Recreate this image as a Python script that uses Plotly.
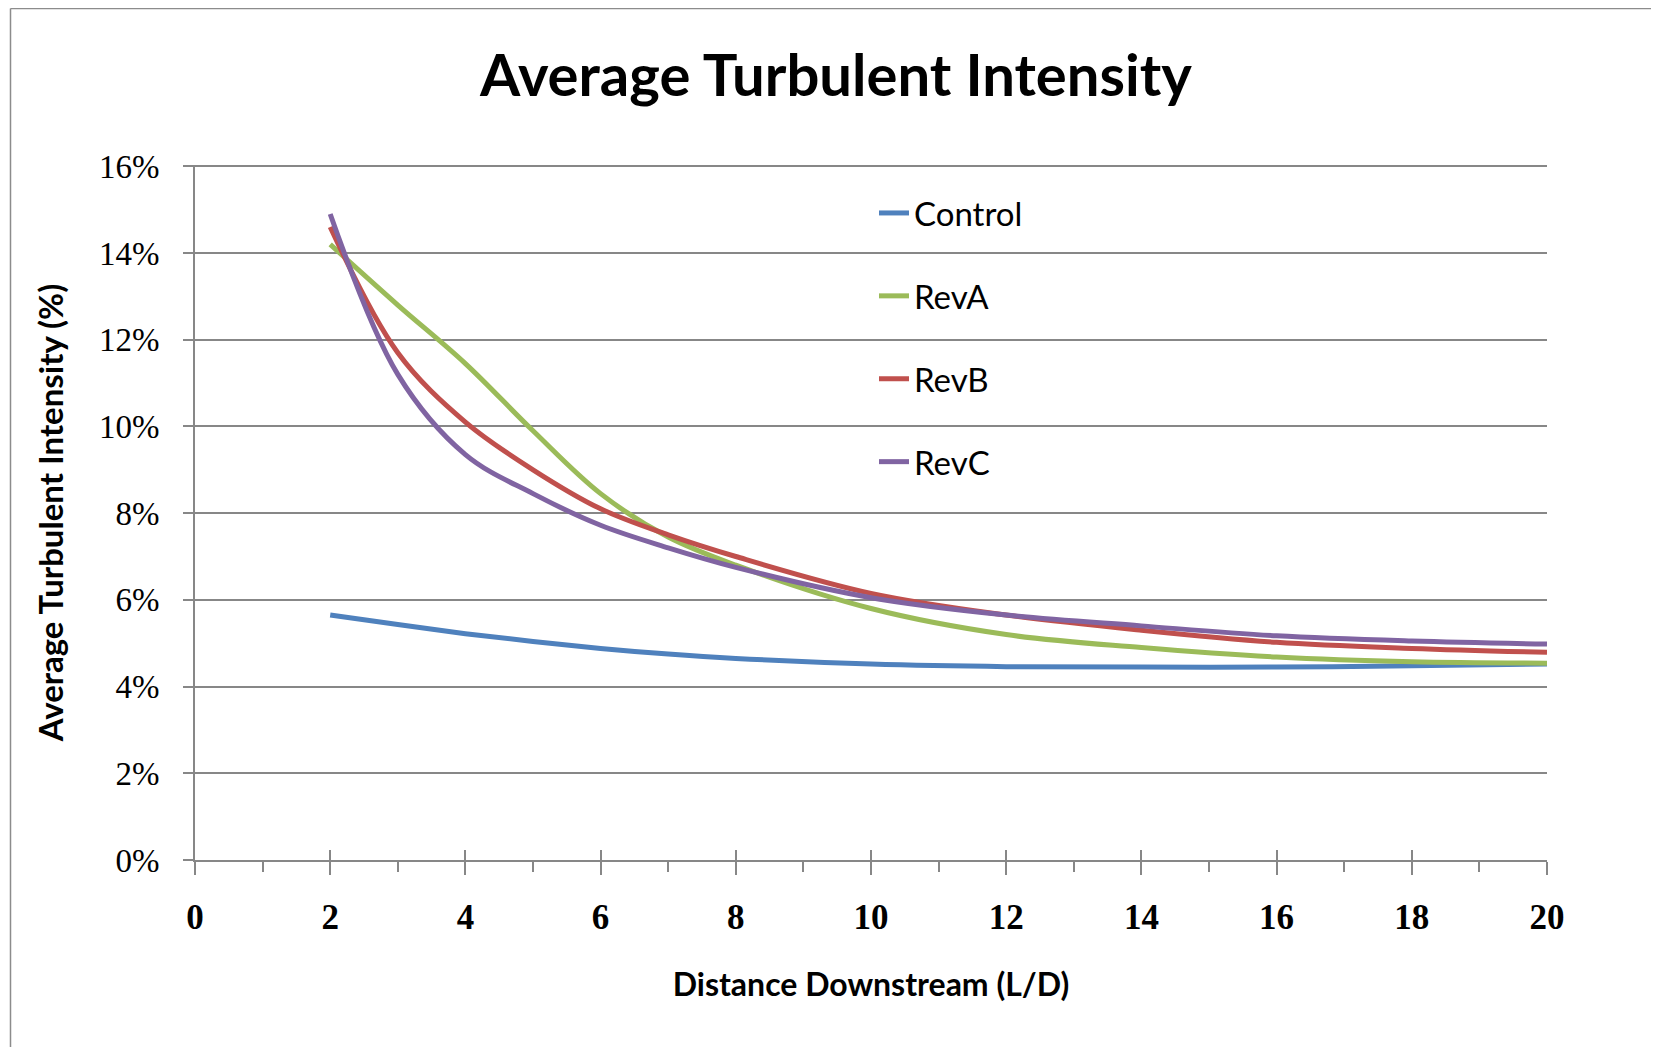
import plotly.graph_objects as go

OFF = 8  # page body margin
W, H = 1659 - OFF, 1047 - OFF
ML, MR, MT, MB = 195 - OFF, 112, 165 - OFF, 187

x_vals = [2, 3, 4, 5, 6, 7, 8, 10, 12, 14, 16, 18, 20]
control = [5.65, 5.43, 5.22, 5.04, 4.88, 4.75, 4.65, 4.52, 4.46, 4.45, 4.45, 4.48, 4.52]
rev_a = [14.2, 12.8, 11.45, 9.9, 8.45, 7.45, 6.8, 5.8, 5.2, 4.9, 4.68, 4.57, 4.54]
rev_b = [14.6, 11.7, 10.1, 9.0, 8.1, 7.5, 7.0, 6.15, 5.65, 5.3, 5.02, 4.88, 4.79]
rev_c = [14.9, 11.2, 9.35, 8.45, 7.72, 7.2, 6.75, 6.05, 5.65, 5.4, 5.17, 5.05, 4.98]

series_names = ["Control", "RevA", "RevB", "RevC"]
series_vals = [control, rev_a, rev_b, rev_c]
colors = ["#4F81BD", "#9BBB59", "#C0504D", "#8064A2"]

y_ticks = [0, 2, 4, 6, 8, 10, 12, 14, 16]
x_ticks = [0, 2, 4, 6, 8, 10, 12, 14, 16, 18, 20]

pw = W - ML - MR
ph = H - MT - MB

fig = go.Figure()
for name, vals, col in zip(series_names, series_vals, colors):
    fig.add_trace(go.Scatter(
        x=x_vals, y=vals, name=name, mode="lines",
        line=dict(color=col, width=5, shape="spline", smoothing=1.0),
        legendgroup=name,
    ))
# helper trace for the upper half of the crossing major ticks
fig.add_trace(go.Scatter(x=[None], y=[None], xaxis="x2", showlegend=False, hoverinfo="skip"))

grid = "#878787"
fig.update_layout(
    width=W, height=H,
    margin=dict(l=ML, r=MR, t=MT, b=MB),
    paper_bgcolor="white", plot_bgcolor="white",
    title=dict(text="<b>Average Turbulent Intensity</b>", x=(836 - OFF) / W, xanchor="center",
               y=1 - (76 - OFF) / H, yanchor="middle",
               font=dict(family="Lato", size=58, color="black")),
    xaxis=dict(range=[0, 20], tickvals=x_ticks, ticktext=[str(v) for v in x_ticks],
               showgrid=False, zeroline=False, showline=True, linecolor=grid, linewidth=2,
               ticks="outside", ticklen=13, tickwidth=2, tickcolor=grid,
               minor=dict(ticks="outside", dtick=1, ticklen=10, tickwidth=2, tickcolor=grid),
               ticklabelstandoff=12,
               tickfont=dict(family="Liberation Serif", size=35, color="black", weight="bold"),
               title=dict(text="<b>Distance Downstream (L/D)</b>", standoff=38,
                          font=dict(family="Lato", size=32, color="black"))),
    xaxis2=dict(range=[0, 20], overlaying="x", anchor="y", side="bottom",
                tickvals=x_ticks, showticklabels=False, showgrid=False, zeroline=False,
                showline=False, ticks="inside", ticklen=10, tickwidth=2, tickcolor=grid),
    yaxis=dict(range=[0, 16.03], tickvals=y_ticks, ticktext=[f"{v}%" for v in y_ticks],
               showgrid=True, gridcolor=grid, gridwidth=2, zeroline=False,
               showline=True, linecolor=grid, linewidth=2,
               ticks="outside", ticklen=10, tickwidth=2, tickcolor=grid,
               ticklabelstandoff=17,
               tickfont=dict(family="Liberation Serif", size=33, color="black"),
               title=dict(text="<b>Average Turbulent Intensity (%)</b>", standoff=25,
                          font=dict(family="Lato", size=33, color="black"))),
    legend=dict(x=(866 - ML) / pw, xanchor="left", y=1 - (177 - MT) / ph,
                yanchor="top", bgcolor="rgba(0,0,0,0)",
                font=dict(family="Lato", size=33, color="black"),
                tracegroupgap=37, itemwidth=30),
    showlegend=True,
)

# chart-area border: only top and left edges fall inside the picture
border = dict(color="#8c8c8c", width=1.5)
fig.add_shape(type="line", xref="paper", yref="paper",
              x0=(2.5 - ML) / pw, x1=(W - ML) / pw,
              y0=1 - (0.5 - MT) / ph, y1=1 - (0.5 - MT) / ph, line=border, layer="below")
fig.add_shape(type="line", xref="paper", yref="paper",
              x0=(2.5 - ML) / pw, x1=(2.5 - ML) / pw,
              y0=1 - (0.5 - MT) / ph, y1=1 - (H - MT) / ph, line=border, layer="below")

fig.write_html("out.html")
